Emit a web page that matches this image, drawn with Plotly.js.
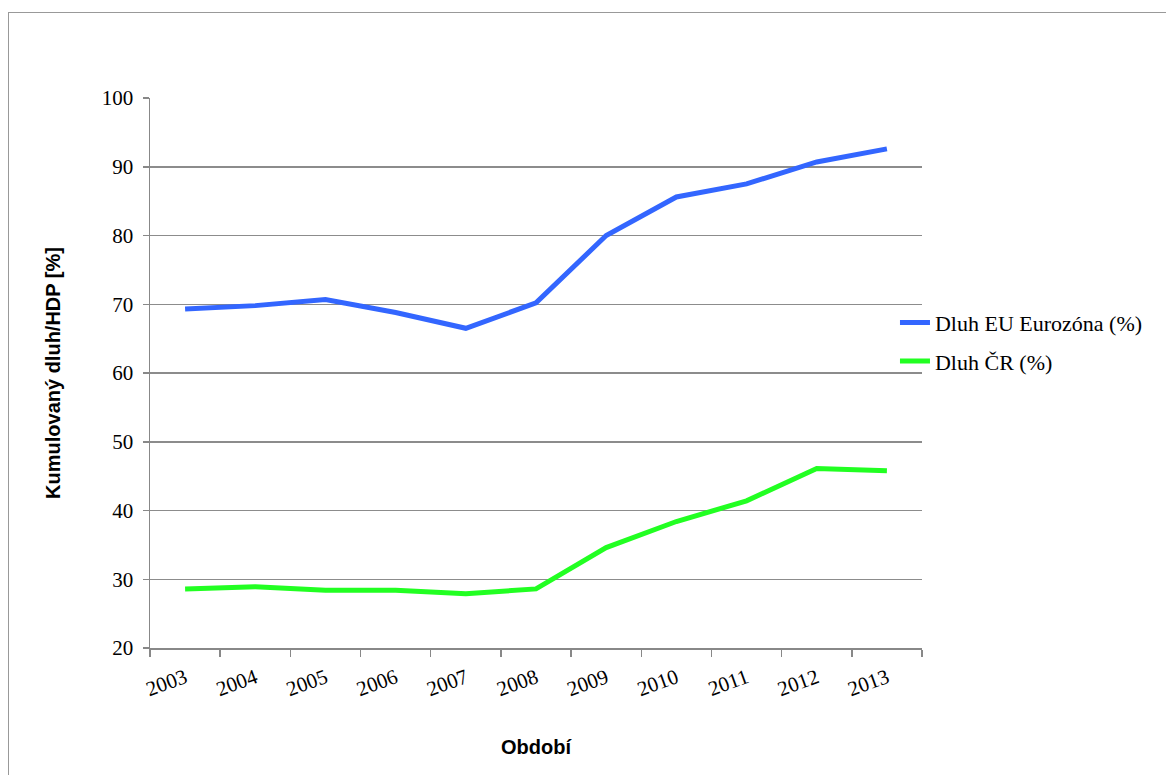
<!DOCTYPE html>
<html>
<head>
<meta charset="utf-8">
<script src="https://cdn.plot.ly/plotly-3.0.1.min.js"></script>
<style>
html,body{margin:0;padding:0;background:#fff;overflow:hidden;}
#frame{position:absolute;left:8px;top:12px;width:1200px;height:800px;border:1.5px solid #999;box-sizing:border-box;pointer-events:none;z-index:5;}
#chart{position:absolute;left:0;top:0;width:1166px;height:775px;}
</style>
</head>
<body>
<div id="chart"></div>
<div id="frame"></div>
<script>
const years = ["2003","2004","2005","2006","2007","2008","2009","2010","2011","2012","2013"];
const dluhEU = [69.3, 69.8, 70.7, 68.8, 66.5, 70.2, 80.0, 85.6, 87.5, 90.7, 92.6];
const dluhCR = [28.6, 28.9, 28.4, 28.4, 27.9, 28.6, 34.6, 38.4, 41.4, 46.1, 45.8];
const seriesNames = ["Dluh EU Eurozóna (%)", "Dluh ČR (%)"];
const yTicks = [20, 30, 40, 50, 60, 70, 80, 90, 100];

const traces = [
  {x: years, y: dluhEU, name: seriesNames[0], legendgroup: 'a', type: 'scatter', mode: 'lines',
   line: {color: '#3366ff', width: 5}},
  {x: years, y: dluhCR, name: seriesNames[1], legendgroup: 'b', type: 'scatter', mode: 'lines',
   line: {color: '#22ff22', width: 5}}
];

const serif = 'Liberation Serif, Times New Roman, serif';
const sans = 'Liberation Sans, Arial, sans-serif';

const layout = {
  width: 1166, height: 775,
  margin: {l: 150, r: 244, t: 98, b: 127},
  paper_bgcolor: 'rgba(0,0,0,0)', plot_bgcolor: '#fff',
  showlegend: true,
  legend: {x: 0.965, y: 0.556, xanchor: 'left', yanchor: 'middle',
    font: {family: serif, size: 22, color: '#000'}, bgcolor: 'rgba(0,0,0,0)',
    itemwidth: 30, traceorder: 'grouped', tracegroupgap: 7},
  xaxis: {
    type: 'category', range: [-0.5, 10.5], tickson: 'boundaries',
    ticks: 'outside', ticklen: 7, tickcolor: '#888', tickwidth: 1.5,
    showline: true, linecolor: '#888', linewidth: 1.5, showgrid: false,
    tickangle: -20, tickfont: {family: serif, size: 21, color: '#000'}, ticklabelstandoff: 8,
    title: {text: 'Období', font: {family: sans, size: 20, color: '#000', weight: 'bold'}, standoff: 40},
    automargin: false, fixedrange: true, zeroline: false
  },
  yaxis: {
    range: [20, 100], tickvals: yTicks, ticktext: yTicks.map(String),
    ticks: 'outside', ticklen: 6, tickcolor: '#888', tickwidth: 1.5,
    showline: true, linecolor: '#888', linewidth: 1.5,
    showgrid: true, gridcolor: '#8c8c8c', gridwidth: 1.5, zeroline: false,
    tickfont: {family: serif, size: 21, color: '#000'}, ticklabelstandoff: 5,
    title: {text: 'Kumulovaný dluh/HDP [%]', font: {family: sans, size: 20, color: '#000', weight: 'bold'}, standoff: 36},
    automargin: false, fixedrange: true
  }
};

Plotly.newPlot('chart', traces, layout, {displayModeBar: false, staticPlot: true});
</script>
</body>
</html>
